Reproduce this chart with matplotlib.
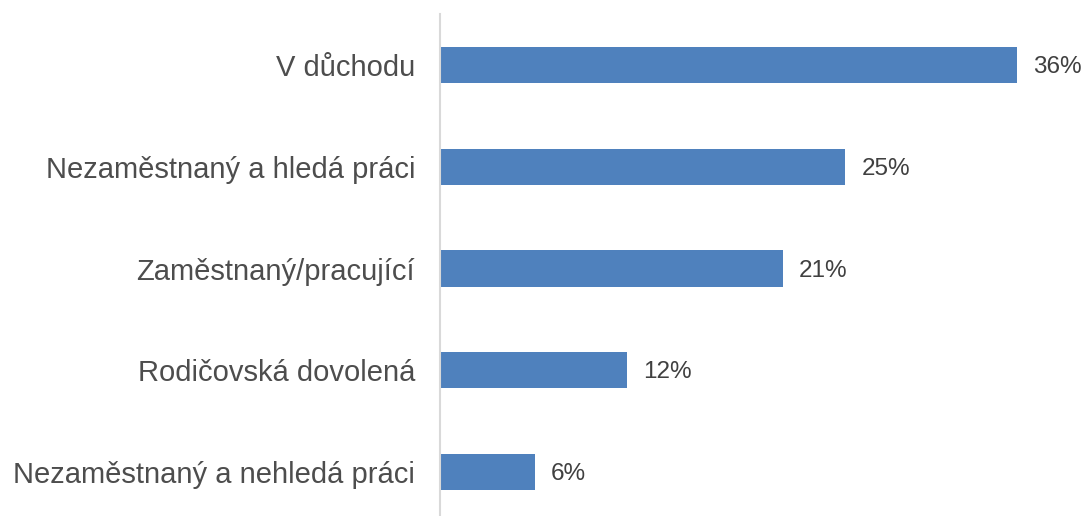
import matplotlib.pyplot as plt

plt.rcParams['font.family'] = ['Liberation Sans', 'DejaVu Sans']

categories = ["V důchodu", "Nezaměstnaný a hledá práci", "Zaměstnaný/pracující",
              "Rodičovská dovolená", "Nezaměstnaný a nehledá práci"]
values = [36.0, 25.3, 21.4, 11.7, 5.9]

W, H = 1085, 516
fig = plt.figure(figsize=(W / 100, H / 100), dpi=100)
# axes box in pixels: left 440, right 1081 (0..40 %), top 14, bottom 523
ax = fig.add_axes([440 / W, 1 - 523 / H, (1081 - 440) / W, (523 - 14) / H])

pos = list(range(len(categories)))
ax.barh(pos, values, height=0.355, color="#4F81BD")
ax.set_xlim(0, 40)
ax.set_ylim(len(categories) - 0.5, -0.5)

for p, v in zip(pos, values):
    ax.text(v + 1.0, p + 0.02, f"{v:.0f}%", va="center", ha="left",
            fontsize=17.5, color="#404040")

ax.set_yticks(pos)
ax.set_yticklabels(categories, fontsize=21, color="#4D4D4D")
ax.tick_params(axis="y", length=0, pad=18)
ax.set_xticks([])
for s in ["top", "right", "bottom"]:
    ax.spines[s].set_visible(False)
ax.spines["left"].set_color("#D9D9D9")
ax.spines["left"].set_linewidth(1.5)

fig.savefig("out.png", dpi=100)
